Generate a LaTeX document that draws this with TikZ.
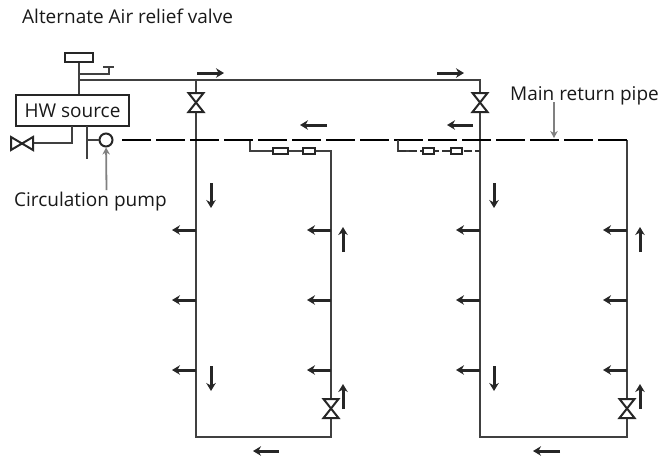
\documentclass[tikz,border=0pt]{standalone}
\usepackage{fontspec}
\setmainfont{Open Sans}
\usetikzlibrary{arrows.meta}

\begin{document}
\begin{tikzpicture}[
    x=1pt, y=-1pt,
    every node/.style={align=center, font=\fontsize{19}{23}\selectfont, text=black!90},
    label/.style={anchor=base west, inner sep=0pt},
    pipe/.style={draw=black!75, line width=1.7pt},
    returnPipe/.style={black, line width=2pt, dash pattern=on 29pt off 5pt},
    thinDash/.style={black!80, line width=1.6pt, dash pattern=on 8pt off 3pt},
    flow/.style={black!85, line width=3pt, -{Stealth[length=8pt,width=9.5pt]}},
    callout/.style={black!50, line width=1.8pt, -{Stealth[length=7pt,width=7.5pt]}},
    box/.style={rectangle, draw=black!85, line width=2pt, inner sep=0pt},
    balance/.style={box, fill=white, minimum height=6pt},
    valveV/.pic={\draw[black!85, line width=2pt, fill=white, line join=miter] (-7.5,-9.5) -- (7.5,-9.5) -- (-7.5,9.5) -- (7.5,9.5) -- cycle;},
    valveH/.pic={\draw[black!85, line width=2pt, fill=white, line join=miter] (-11,-6.5) -- (-11,6.5) -- (11,-6.5) -- (11,6.5) -- cycle;}
]
\useasboundingbox (0,0) rectangle (660,456);

% Nodes
\node[label] (lblValve) at (22,23) {Alternate Air relief valve};
\node[label] (lblReturn) at (510,100) {Main return pipe};
\node[label] (lblPump) at (14,206.5) {Circulation pump};
\node[box, minimum width=113pt, minimum height=31pt] (hw) at (72.5,110.5) {HW source};
\node[box, minimum width=28pt, minimum height=9pt] (tank) at (79,57.5) {};
\node[circle, draw=black!85, line width=2pt, minimum size=13pt, inner sep=0pt] (pump) at (106,140) {};

% Pipe junctions
\coordinate (top0) at (79,80);
\coordinate (top1) at (196,80);
\coordinate (top2) at (480,80);
\coordinate (bot1) at (196,437);
\coordinate (bot2) at (331,437);
\coordinate (bot3) at (480,437);
\coordinate (bot4) at (627,437);
\coordinate (ret0) at (122,140);
\coordinate (ret1) at (627,140);
\coordinate (airA) at (79,74);
\coordinate (airB) at (109,74);
\coordinate (airC) at (109,67);
\coordinate (airL) at (103,67);
\coordinate (airR) at (114,67);
\coordinate (drainA) at (72,126);
\coordinate (drainB) at (72,143);
\coordinate (drainC) at (22,143);
\coordinate (stubA) at (87,126);
\coordinate (stubB) at (87,159);
\coordinate (stubC) at (87,140);
\coordinate (balA) at (250,140);
\coordinate (balB) at (250,151);
\coordinate (balC) at (331,151);
\coordinate (balD) at (398,140);
\coordinate (balE) at (398,151);
\coordinate (balF) at (480,151);
\coordinate (arrReturn) at (554,102);
\coordinate (endReturn) at (554,138);
\coordinate (arrPump) at (106.5,190);

% Pipes
\draw[pipe] (tank) -- (top0) -- (tank |- hw.north);
\draw[pipe] (airA) -- (airB) -- (airC);
\draw[pipe] (airL) -- (airR);
\draw[pipe] (top0) -- (top2) -- (bot3) -- (bot4) -- (ret1);
\draw[pipe] (top1) -- (bot1) -- (bot2) -- (balC) -- (balB) -- (balA);
\draw[pipe] (drainA) -- (drainB) -- (drainC);
\draw[pipe] (stubA) -- (stubB);
\draw[pipe] (stubC) -- (pump);
\draw[returnPipe] (ret0) -- (ret1);
\draw[pipe] (balD) -- (balE) -- ++(12,0);
\draw[thinDash] (balE) -- (balF);

% Balancing valves
\node[balance, minimum width=15pt] (bal1) at (280.5,151) {};
\node[balance, minimum width=12pt] (bal2) at (309,151) {};
\node[balance, minimum width=11pt] (bal3) at (428.5,151) {};
\node[balance, minimum width=11pt] (bal4) at (456.5,151) {};

% Stop valves
\pic (valve1) at (196,102.5) {valveV};
\pic (valve2) at (480,102.5) {valveV};
\pic (valve3) at (331,408.5) {valveV};
\pic (valve4) at (627,408.5) {valveV};
\pic (valve5) at (22,143.5) {valveH};

% Radiator branches
\foreach \x in {196,331,480,627}
    \foreach \y in {230,300,370} {
        \coordinate (riser\x\y) at (\x,\y);
        \coordinate (rad\x\y) at (\x-24,\y);
        \draw[flow] (riser\x\y) -- (rad\x\y);
    }

% Flow direction
\foreach \n/\xa/\ya/\xb/\yb in {1/197/73/224/73, 2/437/73/464/73, 3/327/125/300/125, 4/473/125/447/125,
    5/211/183/211/208, 6/211/366/211/391, 7/494/183/494/208, 8/494/366/494/391,
    9/343/252/343/227, 10/343/409/343/384, 11/640/252/640/227, 12/640/409/640/384,
    13/279/451/253/451, 14/560/451/533/451} {
    \coordinate (flowA\n) at (\xa,\ya);
    \coordinate (flowB\n) at (\xb,\yb);
    \draw[flow] (flowA\n) -- (flowB\n);
}

% Callouts
\draw[callout] (arrReturn) -- (endReturn);
\draw[callout] (arrPump) -- (pump);

\end{tikzpicture}
\end{document}
